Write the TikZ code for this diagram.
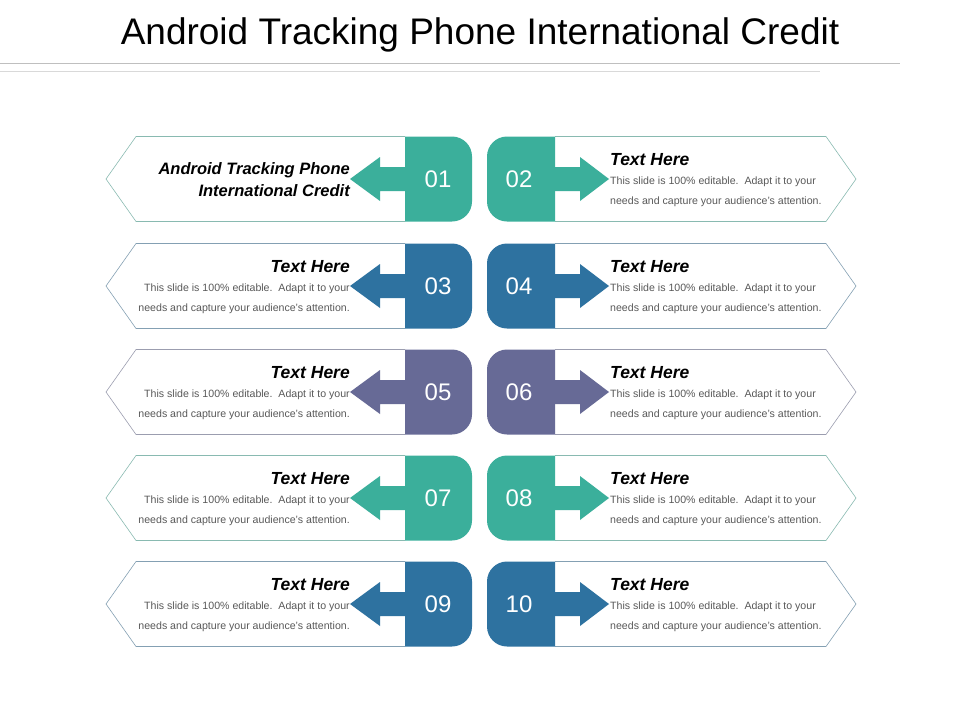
\documentclass[tikz,border=0pt]{standalone}
\usepackage{fontspec}
\setmainfont{Liberation Sans}
\definecolor{cteal}{HTML}{3BAF9B}
\definecolor{cblue}{HTML}{2E72A0}
\definecolor{cpurp}{HTML}{676A96}
\definecolor{bodyg}{HTML}{595959}
\tikzset{
 outl/.style={draw=#1!60!gray!70, line width=0.6pt, fill=white},
 num/.style={text=white, font=\fontsize{24}{24}\selectfont},
 head/.style={font=\fontsize{17.5}{17.5}\selectfont\bfseries\itshape},
 body/.style={font=\fontsize{10.6}{20}\selectfont, text=bodyg, align=#1, inner sep=0pt},
}
\begin{document}
\begin{tikzpicture}[x=1pt,y=-1pt]
\useasboundingbox (0,0) rectangle (960,720);
\node (title) at (480,35) {\fontsize{37}{37}\selectfont Android Tracking Phone International Credit};
\coordinate (l1a) at (0,63); \coordinate (l1b) at (900,63);
\coordinate (l2a) at (0,71); \coordinate (l2b) at (820,71);
\draw[gray!50, line width=0.6pt] (l1a) -- (l1b);
\draw[gray!30, line width=0.6pt] (l2a) -- (l2b);
\foreach \i/\y/\c/\nl/\nr in {1/179/cteal/01/02, 2/286/cblue/03/04, 3/392/cpurp/05/06, 4/498/cteal/07/08, 5/604/cblue/09/10}{
  % left
  \draw[outl=\c] (405,\y-42.5) -- (136,\y-42.5) -- (106,\y) -- (136,\y+42.5) -- (405,\y+42.5);
  \fill[\c] (405,\y-42.5) [rounded corners=20] -- (472,\y-42.5) -- (472,\y+42.5) [sharp corners] -- (405,\y+42.5) -- cycle;
  \fill[\c] (406,\y-12) -- (380,\y-12) -- (380,\y-22) -- (350,\y) -- (380,\y+22) -- (380,\y+12) -- (406,\y+12) -- cycle;
  \node[num] (nl\i) at (438,\y) {\nl};
  % right
  \draw[outl=\c] (555,\y-42.5) -- (826,\y-42.5) -- (856,\y) -- (826,\y+42.5) -- (555,\y+42.5);
  \fill[\c] (555,\y-42.5) [rounded corners=20] -- (487,\y-42.5) -- (487,\y+42.5) [sharp corners] -- (555,\y+42.5) -- cycle;
  \fill[\c] (554,\y-12) -- (580,\y-12) -- (580,\y-22) -- (609,\y) -- (580,\y+22) -- (580,\y+12) -- (554,\y+12) -- cycle;
  \node[num] (nr\i) at (519,\y) {\nr};
  \node[head, anchor=west, inner sep=0pt] (hr\i) at (610,\y-19) {Text Here};
  \node[body=left, anchor=north west] (br\i) at (610,\y-2) {This slide is 100\% editable.\ \ Adapt it to your\\needs and capture your audience's attention.};
}
\node[font=\fontsize{16.5}{22}\selectfont\bfseries\itshape, align=right, anchor=east, inner sep=0pt] (h1) at (350,180) {Android Tracking Phone\\International Credit};
\foreach \i/\y in {2/286,3/392,4/498,5/604}{
  \node[head, anchor=east, inner sep=0pt] (hl\i) at (350,\y-19) {Text Here};
  \node[body=right, anchor=north east] (bl\i) at (350,\y-2) {This slide is 100\% editable.\ \ Adapt it to your\\needs and capture your audience's attention.};
}
\end{tikzpicture}
\end{document}
